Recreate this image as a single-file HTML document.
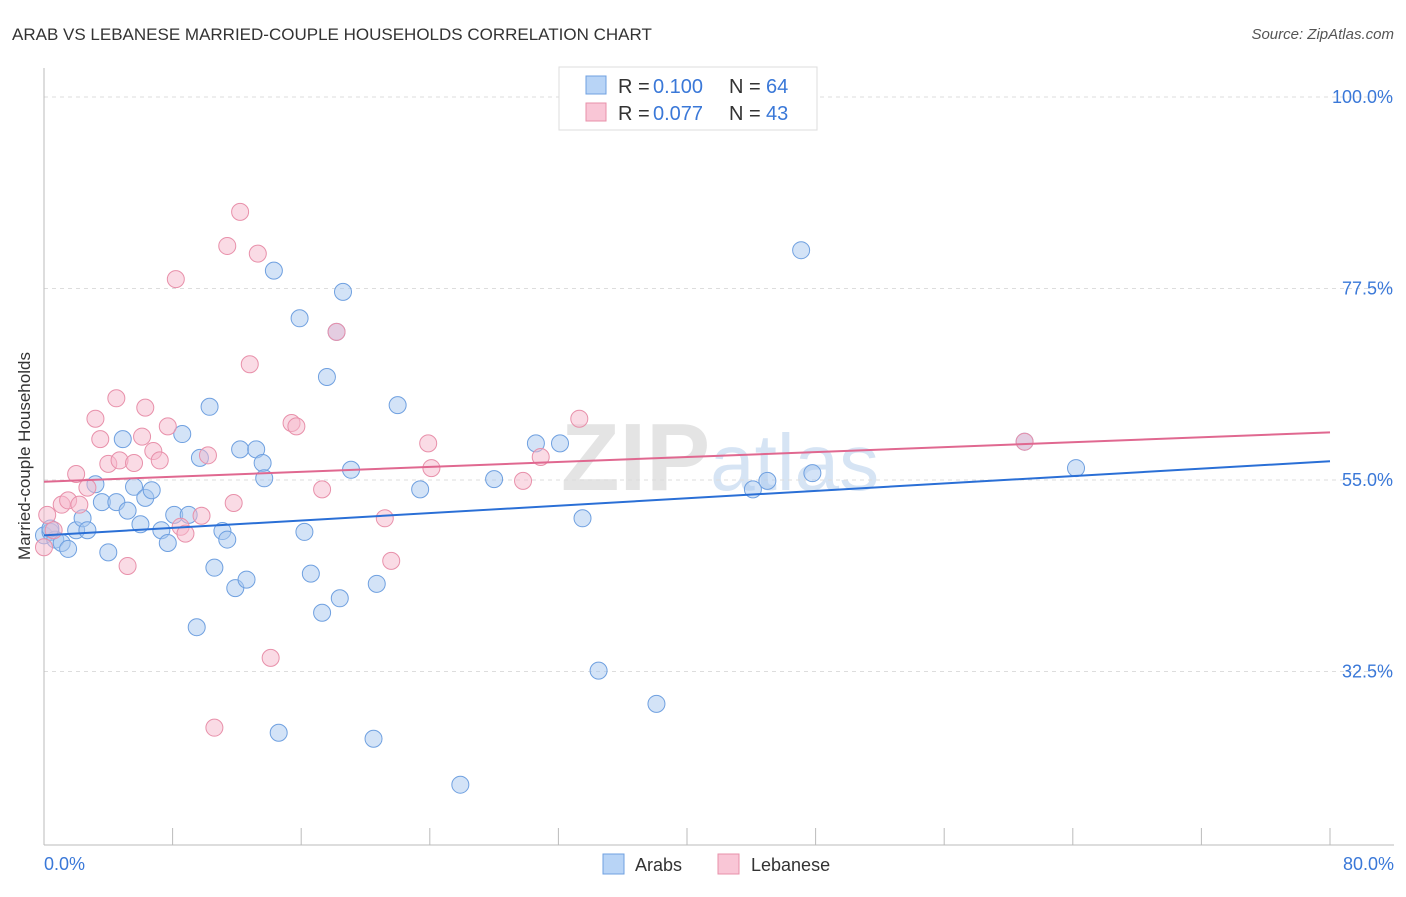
<!DOCTYPE html>
<html><head><meta charset="utf-8"><style>
body{margin:0;background:#fff;font-family:"Liberation Sans",sans-serif}
svg text{font-family:"Liberation Sans",sans-serif}
</style></head><body>
<svg id="chart" width="1406" height="892" xmlns="http://www.w3.org/2000/svg">
<text x="12" y="40" font-size="17" fill="#333">ARAB VS LEBANESE MARRIED-COUPLE HOUSEHOLDS CORRELATION CHART</text>
<text x="1394" y="39" font-size="15" fill="#555" text-anchor="end" font-style="italic">Source: ZipAtlas.com</text>
<text x="720" y="490" font-size="96" fill="#e4e4e4" text-anchor="middle" font-weight="bold" font-family="Liberation Serif">ZIP<tspan fill="#d6e4f4" font-family="Liberation Sans" font-weight="normal" font-size="80">atlas</tspan></text>
<g id="grid"></g><g id="axes"></g><g id="pts"></g><g id="lines"></g>
<text x="30" y="456" font-size="17" fill="#333" text-anchor="middle" transform="rotate(-90 30 456)">Married-couple Households</text>
<text x="44" y="870" font-size="18" fill="#3a78d8">0.0%</text>
<text x="1394" y="870" font-size="18" fill="#3a78d8" text-anchor="end">80.0%</text>
<g>
<rect x="559" y="67" width="258" height="63" fill="#fff" stroke="#ddd"/>
<rect x="586" y="76" width="20" height="18" fill="#b8d4f6" stroke="#6fa0e0"/>
<rect x="586" y="103" width="20" height="18" fill="#f9c6d6" stroke="#e890aa"/>
<text x="618" y="93" font-size="20" fill="#333">R = <tspan x="653" fill="#3a78d8">0.100</tspan><tspan x="729">N = </tspan><tspan x="766" fill="#3a78d8">64</tspan></text>
<text x="618" y="120" font-size="20" fill="#333">R = <tspan x="653" fill="#3a78d8">0.077</tspan><tspan x="729">N = </tspan><tspan x="766" fill="#3a78d8">43</tspan></text>
</g>
<g>
<rect x="603" y="854" width="21" height="20" fill="#b8d4f6" stroke="#6fa0e0"/>
<text x="635" y="871" font-size="18" fill="#333">Arabs</text>
<rect x="718" y="854" width="21" height="20" fill="#f9c6d6" stroke="#e890aa"/>
<text x="751" y="871" font-size="18" fill="#333">Lebanese</text>
</g>
</svg>
<script>
const yTicks=[100,77.5,55,32.5];
const xTickVals=[0,8,16,24,32,40,48,56,64,72,80];
const arabX=[0.0,0.4,0.7,1.1,1.5,2.0,2.4,2.7,3.2,3.6,4.0,4.5,4.9,5.2,5.6,6.0,6.3,6.7,7.3,7.7,8.1,8.6,9.0,9.5,9.7,10.3,10.6,11.1,11.4,11.9,12.2,12.6,13.2,13.6,13.7,14.3,14.6,15.9,16.2,16.6,17.3,17.6,18.4,18.6,19.1,20.5,20.7,22.0,23.4,25.9,28.0,30.6,32.1,33.5,34.5,38.1,44.1,45.0,47.1,47.8,61.0,64.2,18.2,0.4];
const arabY=[48.5,48.9,48.0,47.6,46.9,49.1,50.5,49.1,54.5,52.4,46.5,52.4,59.8,51.4,54.2,49.8,52.9,53.8,49.1,47.6,50.9,60.4,50.9,37.7,57.6,63.6,44.7,49.0,48.0,42.3,58.6,43.3,58.6,57.0,55.2,79.6,25.3,74.0,48.9,44.0,39.4,67.1,41.1,77.1,56.2,24.6,42.8,63.8,53.9,19.2,55.1,59.3,59.3,50.5,32.6,28.7,53.9,54.9,82.0,55.8,59.5,56.4,72.4,49.3];
const lebX=[0.0,0.2,0.6,1.1,1.5,2.0,2.2,2.7,3.2,3.5,4.0,4.5,4.7,5.2,5.6,6.1,6.3,6.8,7.2,7.7,8.2,8.5,8.8,9.8,10.2,10.6,11.4,11.8,12.2,12.8,13.3,14.1,15.4,15.7,17.3,18.2,21.2,21.6,23.9,24.1,29.8,30.9,33.3,61.0];
const lebY=[47.1,50.9,49.1,52.1,52.6,55.7,52.1,54.1,62.2,59.8,56.9,64.6,57.3,44.9,57.0,60.1,63.5,58.4,57.3,61.3,78.6,49.5,48.7,50.8,57.9,25.9,82.5,52.3,86.5,68.6,81.6,34.1,61.7,61.3,53.9,72.4,50.5,45.5,59.3,56.4,54.9,57.7,62.2,59.5];
const arabTrend=[48.5,57.2];
const lebTrend=[54.8,60.6];
const X=v=>44+v*16.075, Y=v=>97+(100-v)*8.511;
const NS="http://www.w3.org/2000/svg";
function mk(t,a,p){const e=document.createElementNS(NS,t);for(const k in a)e.setAttribute(k,a[k]);document.getElementById(p).appendChild(e);return e;}
yTicks.forEach(t=>{
 const l=mk('line',{x1:44,x2:1394,y1:Y(t),y2:Y(t),stroke:'#ddd','stroke-dasharray':'4,4'},'grid');
 
 
 const tx=mk('text',{x:1393,y:Y(t)+6,'font-size':18,fill:'#3a78d8','text-anchor':'end'},'grid');
 tx.textContent=t.toFixed(1)+'%';
 
 
});
const ya=mk('line',{x1:44,x2:44,y1:68,y2:845,stroke:'#bbb'},'axes');


const xa=mk('line',{x1:44,x2:1394,y1:845,y2:845,stroke:'#bbb'},'axes');


xTickVals.forEach(v=>{
 const t=mk('line',{x1:X(v),x2:X(v),y1:828,y2:845,stroke:'#bbb'},'axes');
 
 
});
function pts(xs,ys,fill,stroke,name){xs.forEach((x,i)=>{
 const c=mk('circle',{cx:X(x),cy:Y(ys[i]),r:8.5,fill:fill,'fill-opacity':0.5,stroke:stroke,'stroke-width':1},'pts');
 
 
});}
pts(arabX,arabY,'#a8c8f0','#6fa0e0','arab-point');
pts(lebX,lebY,'#f5b8cc','#e890aa','lebanese-point');
const l1=mk('line',{x1:X(0),x2:X(80),y1:Y(arabTrend[0]),y2:Y(arabTrend[1]),stroke:'#2a6fd6','stroke-width':2},'lines');


const l2=mk('line',{x1:X(0),x2:X(80),y1:Y(lebTrend[0]),y2:Y(lebTrend[1]),stroke:'#e06890','stroke-width':2},'lines');


</script>
</body></html>
